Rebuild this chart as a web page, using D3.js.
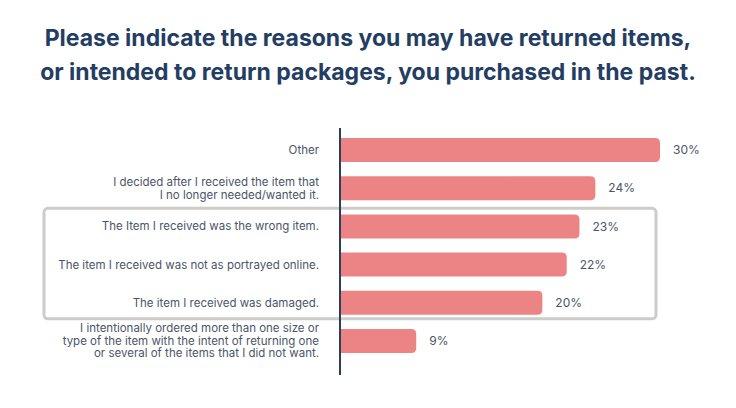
<!DOCTYPE html>
<html>
<head>
<meta charset="utf-8">
<script src="https://cdn.jsdelivr.net/npm/d3@7"></script>
<style>
  body { margin: 0; background: #fff; }
  svg { display: block; }
</style>
</head>
<body>
<div id="chart"></div>
<script>
// chart data
var titleLines = [
    "Please indicate the reasons you may have returned items,",
    "or intended to return packages, you purchased in the past."
];
var categories = [
    ["Other"],
    ["I decided after I received the item that", "I no longer needed/wanted it."],
    ["The Item I received was the wrong item."],
    ["The item I received was not as portrayed online."],
    ["The item I received was damaged."],
    ["I intentionally ordered more than one size or", "type of the item with the intent of returning one", "or several of the items that I did not want."]
];
// bar lengths (labels are the rounded figures shown)
var values = [30.1, 24.0, 22.5, 21.3, 19.0, 7.1];
var valueLabels = ["30%", "24%", "23%", "22%", "20%", "9%"];
// rows inside the grey highlight frame
var highlighted = [2, 3, 4];

var width = 736, height = 408;
var margin = {top: 131, left: 341, bottom: 48};

var svg = d3.select("#chart").append("svg")
    .attr("width", width)
    .attr("height", height);

// title
svg.append("g").selectAll("text")
    .data(titleLines)
    .enter().append("text")
    .attr("x", width / 2)
    .attr("y", function(d, i) { return 46 + i * 34; })
    .attr("text-anchor", "middle")
    .attr("font-family", "Inter, sans-serif")
    .attr("font-weight", 700)
    .attr("font-size", "23px")
    .attr("fill", "#233d63")
    .text(function(d) { return d; });

var x = d3.scaleLinear()
    .domain([0, 30.1])
    .range([margin.left, 660]);

var y = d3.scaleBand()
    .domain(d3.range(categories.length))
    .range([margin.top, height - margin.bottom])
    .paddingInner(0.37)
    .paddingOuter(0.185);

// highlight frame
var step = y.step();
var first = d3.min(highlighted), last = d3.max(highlighted);
svg.append("rect")
    .attr("x", 44)
    .attr("y", y(first) + y.bandwidth() / 2 - step / 2 + 1)
    .attr("width", 656 - 44)
    .attr("height", (last - first + 1) * step - 4)
    .attr("rx", 4)
    .attr("fill", "none")
    .attr("stroke", "#cdccc8")
    .attr("stroke-width", 3);

// bars, square at the axis and rounded at the end
var r = 5;
svg.append("g").selectAll("path")
    .data(values)
    .enter().append("path")
    .attr("fill", "#ec8384")
    .attr("d", function(d, i) {
        var x0 = x(0), x1 = x(d), y0 = y(i), h = y.bandwidth();
        return "M" + x0 + "," + y0 +
            "H" + (x1 - r) +
            "Q" + x1 + "," + y0 + " " + x1 + "," + (y0 + r) +
            "V" + (y0 + h - r) +
            "Q" + x1 + "," + (y0 + h) + " " + (x1 - r) + "," + (y0 + h) +
            "H" + x0 + "Z";
    });

// value labels
svg.append("g").selectAll("text")
    .data(values)
    .enter().append("text")
    .attr("x", function(d) { return x(d) + 13; })
    .attr("y", function(d, i) { return y(i) + y.bandwidth() / 2; })
    .attr("dy", "0.35em")
    .attr("font-family", "Inter, sans-serif")
    .attr("font-size", "12px")
    .attr("fill", "#4b5569")
    .text(function(d, i) { return valueLabels[i]; });

// category labels
var lineH = 12.5;
var cat = svg.append("g").selectAll("text")
    .data(categories)
    .enter().append("text")
    .attr("text-anchor", "end")
    .attr("font-family", "Inter, sans-serif")
    .attr("font-size", "11.5px")
    .attr("fill", "#4b5569")
    .attr("transform", function(d, i) {
        var cy = y(i) + y.bandwidth() / 2 - (d.length - 1) * lineH / 2;
        return "translate(319," + cy + ")";
    });

cat.selectAll("tspan")
    .data(function(d) { return d; })
    .enter().append("tspan")
    .attr("x", 0)
    .attr("y", function(d, i) { return i * lineH; })
    .attr("dy", "0.35em")
    .text(function(d) { return d; });

// axis line
svg.append("line")
    .attr("x1", 340).attr("x2", 340)
    .attr("y1", 128).attr("y2", 375)
    .attr("stroke", "#2d3e5a")
    .attr("stroke-width", 2);
</script>
</body>
</html>
